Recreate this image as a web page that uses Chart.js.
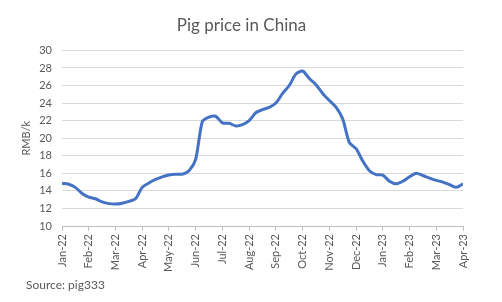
<!DOCTYPE html>
<html>
<head>
<meta charset="utf-8">
<script src="https://cdn.jsdelivr.net/npm/chart.js@4/dist/chart.umd.min.js"></script>
<style>
  html, body { margin: 0; padding: 0; background: #fff; }
  #wrap { width: 502px; height: 302px; }
</style>
</head>
<body>
<div id="wrap"><canvas id="chart" width="502" height="302"></canvas></div>
<script>
// month labels on the x axis (one tick per month)
const months = ['Jan-22', 'Feb-22', 'Mar-22', 'Apr-22', 'May-22', 'Jun-22', 'Jul-22', 'Aug-22',
  'Sep-22', 'Oct-22', 'Nov-22', 'Dec-22', 'Jan-23', 'Feb-23', 'Mar-23', 'Apr-23'];

// weekly-ish readings, four per month, RMB/kg
const price = [
  14.85, 14.75, 14.4, 13.7,
  13.3, 13.1, 12.75, 12.55,
  12.5, 12.6, 12.8, 13.1,
  14.4, 14.9, 15.3, 15.6,
  15.8, 15.9, 15.9, 16.3,
  17.6, 21.9, 22.4, 22.5,
  21.75, 21.7, 21.4, 21.55,
  22.0, 22.9, 23.25, 23.5,
  24.0, 25.1, 26.0, 27.3,
  27.65, 26.8, 26.1, 25.1,
  24.3, 23.55, 22.2, 19.5,
  18.8, 17.4, 16.3, 15.85,
  15.8, 15.1, 14.8, 15.1,
  15.6, 16.0, 15.75, 15.45,
  15.2, 15.0, 14.7, 14.4,
  14.8
];

const yTicks = [10, 12, 14, 16, 18, 20, 22, 24, 26, 28, 30];
const perMonth = 4;

const points = price.map((v, i) => ({ x: i / perMonth, y: v }));
const grey = '#595959';
Chart.defaults.font.family = 'Lato, "Open Sans", sans-serif';

const sourceNote = {
  id: 'sourceNote',
  afterDraw(chart) {
    const ctx = chart.ctx;
    ctx.save();
    ctx.font = '12px Lato, "Open Sans", sans-serif';
    ctx.fillStyle = grey;
    ctx.textBaseline = 'middle';
    ctx.fillText('Source: pig333', 26, 285);
    ctx.restore();
  }
};

new Chart(document.getElementById('chart'), {
  type: 'line',
  data: {
    datasets: [{
      data: points,
      borderColor: '#4472C4',
      borderWidth: 3,
      pointRadius: 0,
      tension: 0.25,
      fill: false
    }]
  },
  options: {
    responsive: false,
    animation: false,
    layout: { padding: { left: 20, right: 39, top: 0, bottom: 0 } },
    plugins: {
      legend: { display: false },
      tooltip: { enabled: false },
      title: {
        display: true,
        text: 'Pig price in China',
        color: grey,
        font: { size: 17, weight: 'normal' },
        padding: { top: 15, bottom: 15 }
      }
    },
    scales: {
      x: {
        type: 'linear',
        min: 0,
        max: months.length - 1,
        afterBuildTicks: s => { s.ticks = months.map((m, i) => ({ value: i })); },
        afterFit: s => { s.height = 76; },
        ticks: {
          color: grey,
          font: { size: 11 },
          minRotation: 90,
          maxRotation: 90,
          padding: 3,
          callback: v => months[v]
        },
        grid: { drawOnChartArea: false, color: '#bfbfbf', tickLength: 5 },
        border: { color: '#bfbfbf' }
      },
      y: {
        min: 10,
        max: 30,
        afterBuildTicks: s => { s.ticks = yTicks.map(v => ({ value: v })); },
        afterFit: s => { s.width = 42; },
        ticks: { color: grey, font: { size: 11 }, padding: 10 },
        grid: { color: '#d9d9d9', drawTicks: false },
        border: { display: false },
        title: {
          display: true,
          text: 'RMB/k',
          color: grey,
          font: { size: 11 },
          padding: 0
        }
      }
    }
  },
  plugins: [sourceNote]
});
</script>
</body>
</html>
